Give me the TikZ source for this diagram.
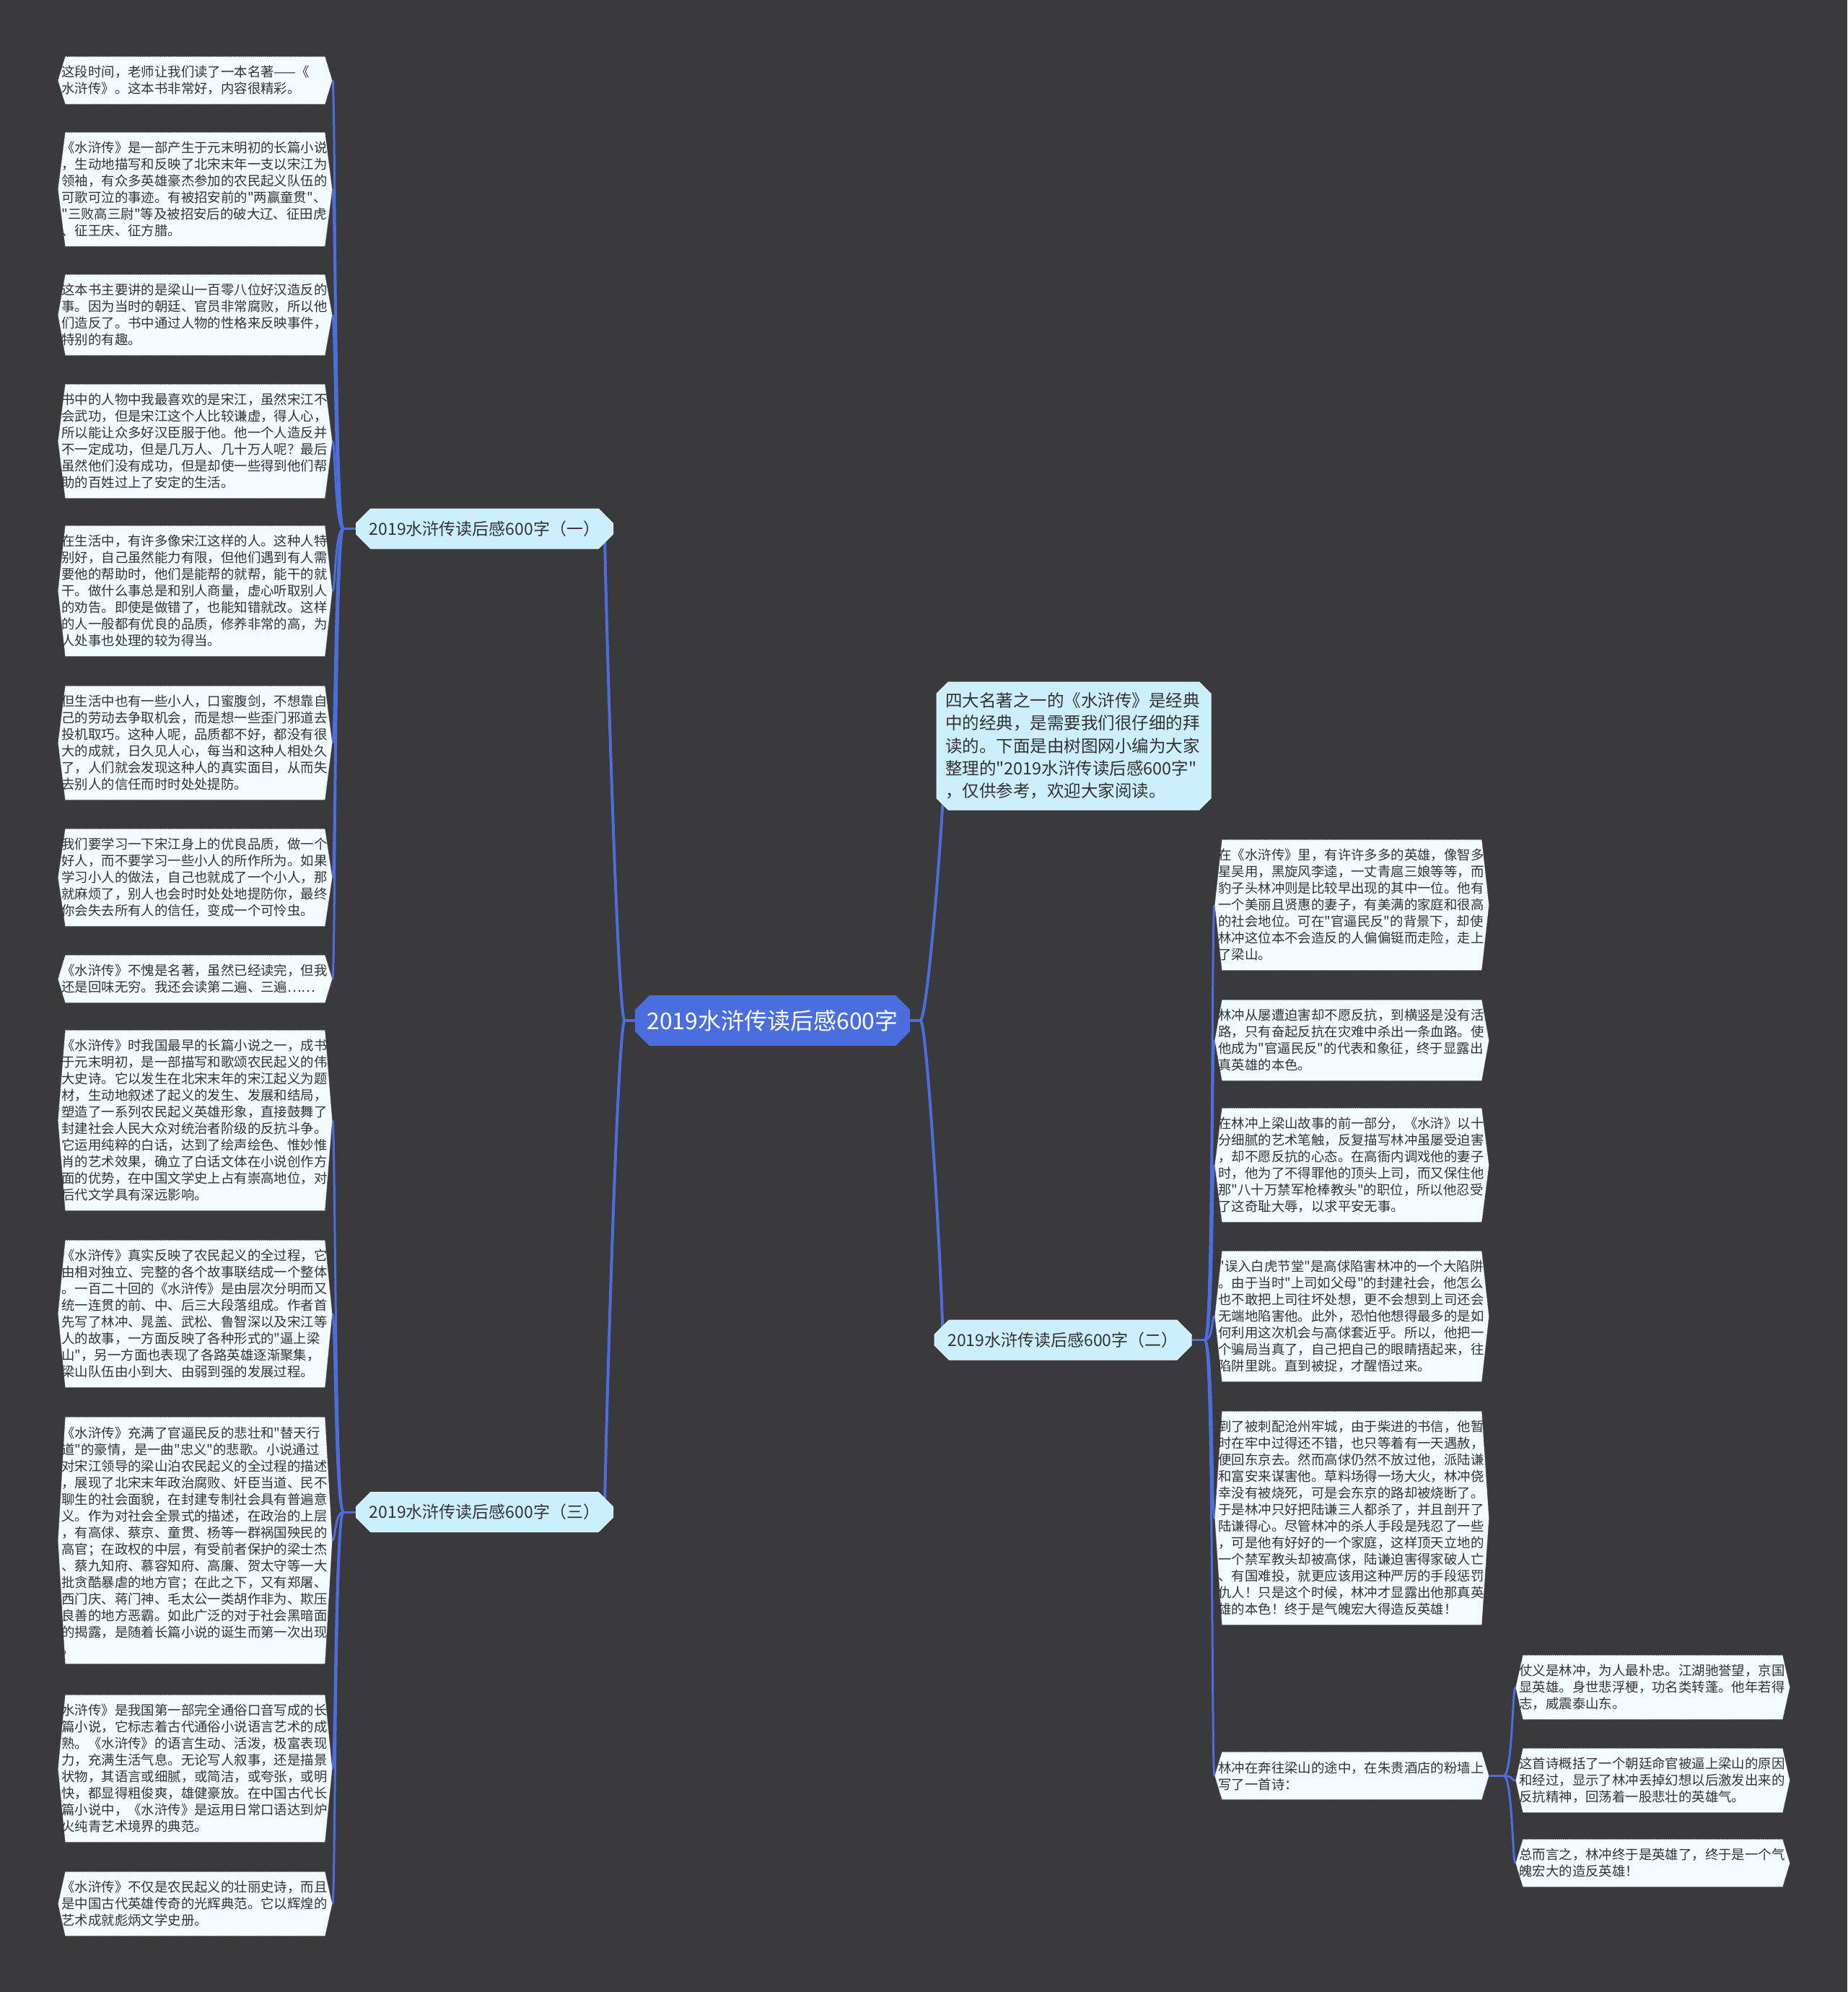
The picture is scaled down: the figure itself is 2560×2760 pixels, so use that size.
\documentclass[tikz,border=0pt]{standalone}
\usepackage{fontspec}
\newfontfamily\cjk{Noto Sans CJK SC}[Ligatures=TeXOff]
\usetikzlibrary{shapes.misc}
\definecolor{bgdark}{HTML}{3A393B}
\definecolor{leaffill}{HTML}{F2FBFE}
\definecolor{leafdot}{HTML}{707070}
\definecolor{branchfill}{HTML}{CCEFFC}
\definecolor{branchedge}{HTML}{E6F7FD}
\definecolor{centerfill}{HTML}{4A6EE0}
\definecolor{linecol}{HTML}{4A6EDF}
\definecolor{txt}{HTML}{333333}
\pgfdeclarelayer{bglayer}
\pgfdeclarelayer{lines}
\pgfsetlayers{bglayer,lines,main}
\begin{document}
\begin{tikzpicture}[x=0.5pt,y=-0.5pt,
  leaf/.style={rectangle, anchor=north west, inner xsep=2.5pt, inner ysep=0pt,
    text width=185pt, minimum height={(23*#1+20)*0.5pt}, align=left, text=txt,
    font=\cjk\fontsize{9.2pt}{11.5pt}\selectfont,
    path picture={\path[fill=leaffill, draw=leafdot, densely dotted, line width=0.4pt]
      ([xshift=5pt]path picture bounding box.north west) --
      ([xshift=-5pt]path picture bounding box.north east) --
      (path picture bounding box.east) --
      ([xshift=-5pt]path picture bounding box.south east) --
      ([xshift=5pt]path picture bounding box.south west) --
      (path picture bounding box.west) -- cycle;}},
  branch/.style={chamfered rectangle, chamfered rectangle xsep=5pt, chamfered rectangle ysep=5pt,
    anchor=center, fill=branchfill, draw=branchedge, line width=0.5pt, inner sep=0pt,
    minimum width=178pt, minimum height=27.5pt, text=txt,
    font=\cjk\fontsize{11.5pt}{14pt}\selectfont},
  centre/.style={chamfered rectangle, chamfered rectangle xsep=5pt, chamfered rectangle ysep=5pt,
    anchor=center, fill=centerfill, draw=none, inner sep=0pt,
    minimum width=190.5pt, minimum height=35pt, text=white,
    font=\cjk\fontsize{16pt}{19pt}\selectfont},
  intro/.style={chamfered rectangle, chamfered rectangle xsep=4pt, chamfered rectangle ysep=4pt,
    anchor=center, fill=branchfill, draw=branchedge, line width=0.5pt,
    inner xsep=2pt, inner ysep=0pt, text width=178pt, minimum height=88.5pt,
    align=left, text=txt, font=\cjk\fontsize{11.75pt}{15.6pt}\selectfont},
  conn/.style={draw=linecol, line width=1.5pt},
  mainconn/.style={draw=linecol, line width=2pt}]

\begin{pgfonlayer}{bglayer}
\fill[bgdark] (0,0) rectangle (2560,2760);
\end{pgfonlayer}
\useasboundingbox (0,0) rectangle (2560,2760);

% centre, intro and branches
\node[centre] (c) at (1070.5,1414) {2019水浒传读后感600字};
\node[intro] (intro) at (1488,1033.5) {四大名著之一的《水浒传》是经典\\中的经典，是需要我们很仔细的拜\\读的。下面是由树图网小编为大家\\整理的"2019水浒传读后感600字"\\，仅供参考，欢迎大家阅读。};
\node[branch] (b1) at (671.5,732.5) {2019水浒传读后感600字（一）};
\node[branch] (b2) at (1473,1856.5) {2019水浒传读后感600字（二）};
\node[branch] (b3) at (671.5,2095) {2019水浒传读后感600字（三）};

% left leaves (branch one)
\node[leaf=2] (l1) at (80,78) {这段时间，老师让我们读了一本名著——《\\水浒传》。这本书非常好，内容很精彩。};
\node[leaf=6] (l2) at (80,183) {《水浒传》是一部产生于元末明初的长篇小说\\，生动地描写和反映了北宋末年一支以宋江为\\领袖，有众多英雄豪杰参加的农民起义队伍的\\可歌可泣的事迹。有被招安前的"两赢童贯"、\\"三败高三尉"等及被招安后的破大辽、征田虎\\、征王庆、征方腊。};
\node[leaf=4] (l3) at (80,380) {这本书主要讲的是梁山一百零八位好汉造反的\\事。因为当时的朝廷、官员非常腐败，所以他\\们造反了。书中通过人物的性格来反映事件，\\特别的有趣。};
\node[leaf=6] (l4) at (80,532) {书中的人物中我最喜欢的是宋江，虽然宋江不\\会武功，但是宋江这个人比较谦虚，得人心，\\所以能让众多好汉臣服于他。他一个人造反并\\不一定成功，但是几万人、几十万人呢？最后\\虽然他们没有成功，但是却使一些得到他们帮\\助的百姓过上了安定的生活。};
\node[leaf=7] (l5) at (80,728) {在生活中，有许多像宋江这样的人。这种人特\\别好，自己虽然能力有限，但他们遇到有人需\\要他的帮助时，他们是能帮的就帮，能干的就\\干。做什么事总是和别人商量，虚心听取别人\\的劝告。即使是做错了，也能知错就改。这样\\的人一般都有优良的品质，修养非常的高，为\\人处事也处理的较为得当。};
\node[leaf=6] (l6) at (80,950) {但生活中也有一些小人，口蜜腹剑，不想靠自\\己的劳动去争取机会，而是想一些歪门邪道去\\投机取巧。这种人呢，品质都不好，都没有很\\大的成就，日久见人心，每当和这种人相处久\\了，人们就会发现这种人的真实面目，从而失\\去别人的信任而时时处处提防。};
\node[leaf=5] (l7) at (80,1148) {我们要学习一下宋江身上的优良品质，做一个\\好人，而不要学习一些小人的所作所为。如果\\学习小人的做法，自己也就成了一个小人，那\\就麻烦了，别人也会时时处处地提防你，最终\\你会失去所有人的信任，变成一个可怜虫。};
\node[leaf=2] (l8) at (80,1323) {《水浒传》不愧是名著，虽然已经读完，但我\\还是回味无穷。我还会读第二遍、三遍……};

% left leaves (branch three)
\node[leaf=10] (l9) at (80,1427) {《水浒传》时我国最早的长篇小说之一，成书\\于元末明初，是一部描写和歌颂农民起义的伟\\大史诗。它以发生在北宋末年的宋江起义为题\\材，生动地叙述了起义的发生、发展和结局，\\塑造了一系列农民起义英雄形象，直接鼓舞了\\封建社会人民大众对统治者阶级的反抗斗争。\\它运用纯粹的白话，达到了绘声绘色、惟妙惟\\肖的艺术效果，确立了白话文体在小说创作方\\面的优势，在中国文学史上占有崇高地位，对\\后代文学具有深远影响。};
\node[leaf=8] (l10) at (80,1718) {《水浒传》真实反映了农民起义的全过程，它\\由相对独立、完整的各个故事联结成一个整体\\。一百二十回的《水浒传》是由层次分明而又\\统一连贯的前、中、后三大段落组成。作者首\\先写了林冲、晁盖、武松、鲁智深以及宋江等\\人的故事，一方面反映了各种形式的"逼上梁\\山"，另一方面也表现了各路英雄逐渐聚集，\\梁山队伍由小到大、由弱到强的发展过程。};
\node[leaf=14] (l11) at (80,1963) {《水浒传》充满了官逼民反的悲壮和"替天行\\道"的豪情，是一曲"忠义"的悲歌。小说通过\\对宋江领导的梁山泊农民起义的全过程的描述\\，展现了北宋末年政治腐败、奸臣当道、民不\\聊生的社会面貌，在封建专制社会具有普遍意\\义。作为对社会全景式的描述，在政治的上层\\，有高俅、蔡京、童贯、杨等一群祸国殃民的\\高官；在政权的中层，有受前者保护的梁士杰\\、蔡九知府、慕容知府、高廉、贺太守等一大\\批贪酷暴虐的地方官；在此之下，又有郑屠、\\西门庆、蒋门神、毛太公一类胡作非为、欺压\\良善的地方恶霸。如此广泛的对于社会黑暗面\\的揭露，是随着长篇小说的诞生而第一次出现\\。};
\node[leaf=8] (l12) at (80,2348) {水浒传》是我国第一部完全通俗口音写成的长\\篇小说，它标志着古代通俗小说语言艺术的成\\熟。《水浒传》的语言生动、活泼，极富表现\\力，充满生活气息。无论写人叙事，还是描景\\状物，其语言或细腻，或简洁，或夸张，或明\\快，都显得粗俊爽，雄健豪放。在中国古代长\\篇小说中，《水浒传》是运用日常口语达到炉\\火纯青艺术境界的典范。};
\node[leaf=3] (l13) at (80,2593) {《水浒传》不仅是农民起义的壮丽史诗，而且\\是中国古代英雄传奇的光辉典范。它以辉煌的\\艺术成就彪炳文学史册。};

% right leaves (branch two)
\node[leaf=7] (r1) at (1683,1163) {在《水浒传》里，有许许多多的英雄，像智多\\星吴用，黑旋风李逵，一丈青扈三娘等等，而\\豹子头林冲则是比较早出现的其中一位。他有\\一个美丽且贤惠的妻子，有美满的家庭和很高\\的社会地位。可在"官逼民反"的背景下，却使\\林冲这位本不会造反的人偏偏铤而走险，走上\\了梁山。};
\node[leaf=4] (r2) at (1683,1385) {林冲从屡遭迫害却不愿反抗，到横竖是没有活\\路，只有奋起反抗在灾难中杀出一条血路。使\\他成为"官逼民反"的代表和象征，终于显露出\\真英雄的本色。};
\node[leaf=6] (r3) at (1683,1535) {在林冲上梁山故事的前一部分，《水浒》以十\\分细腻的艺术笔触，反复描写林冲虽屡受迫害\\，却不愿反抗的心态。在高衙内调戏他的妻子\\时，他为了不得罪他的顶头上司，而又保住他\\那"八十万禁军枪棒教头"的职位，所以他忍受\\了这奇耻大辱，以求平安无事。};
\node[leaf=7] (r4) at (1683,1733) {"误入白虎节堂"是高俅陷害林冲的一个大陷阱\\。由于当时"上司如父母"的封建社会，他怎么\\也不敢把上司往坏处想，更不会想到上司还会\\无端地陷害他。此外，恐怕他想得最多的是如\\何利用这次机会与高俅套近乎。所以，他把一\\个骗局当真了，自己把自己的眼睛捂起来，往\\陷阱里跳。直到被捉，才醒悟过来。};
\node[leaf=12] (r5) at (1683,1955) {到了被刺配沧州牢城，由于柴进的书信，他暂\\时在牢中过得还不错，也只等着有一天遇赦，\\便回东京去。然而高俅仍然不放过他，派陆谦\\和富安来谋害他。草料场得一场大火，林冲侥\\幸没有被烧死，可是会东京的路却被烧断了。\\于是林冲只好把陆谦三人都杀了，并且剖开了\\陆谦得心。尽管林冲的杀人手段是残忍了一些\\，可是他有好好的一个家庭，这样顶天立地的\\一个禁军教头却被高俅，陆谦迫害得家破人亡\\、有国难投，就更应该用这种严厉的手段惩罚\\仇人！只是这个时候，林冲才显露出他那真英\\雄的本色！终于是气魄宏大得造反英雄！};
\node[leaf=2] (r6) at (1683,2427) {林冲在奔往梁山的途中，在朱贵酒店的粉墙上\\写了一首诗：};

% far right leaves
\node[leaf=3] (f1) at (2100,2293) {仗义是林冲，为人最朴忠。江湖驰誉望，京国\\显英雄。身世悲浮梗，功名类转蓬。他年若得\\志，威震泰山东。};
\node[leaf=3] (f2) at (2100,2422) {这首诗概括了一个朝廷命官被逼上梁山的原因\\和经过，显示了林冲丢掉幻想以后激发出来的\\反抗精神，回荡着一股悲壮的英雄气。};
\node[leaf=2] (f3) at (2100,2548) {总而言之，林冲终于是英雄了，终于是一个气\\魄宏大的造反英雄！};

% junctions
\coordinate (jC1) at ([xshift=-7pt]c.west);
\coordinate (jC2) at ([xshift=7pt]c.east);
\coordinate (jL1) at ([xshift=-8.5pt]b1.west);
\coordinate (jL3) at ([xshift=-8.5pt]b3.west);
\coordinate (jR2) at ([xshift=9pt]b2.east);
\coordinate (jR6) at ([xshift=10pt]r6.east);

\begin{pgfonlayer}{lines}
\draw[mainconn] (c.west) -- (jC1);
\draw[mainconn] (c.east) -- (jC2);
\draw[mainconn] (jC1) .. controls +(-10,0) and +(0,60) .. ([xshift=-6pt]b1.east);
\draw[mainconn] (jC1) .. controls +(-10,0) and +(0,-60) .. ([xshift=-6pt]b3.east);
\draw[mainconn] (jC2) .. controls +(10,0) and +(0,80) .. ([xshift=6pt]intro.west);
\draw[mainconn] (jC2) .. controls +(10,0) and +(0,-60) .. ([xshift=6pt]b2.west);
\draw[conn] (b1.west) -- (jL1);
\draw[conn] (b3.west) -- (jL3);
\draw[conn] (b2.east) -- (jR2);
\draw[conn] (r6.east) -- (jR6);
\foreach \n in {l1,l2,l3,l4,l5,l6,l7,l8}
  \draw[conn] (jL1) .. controls +(-12,0) and +(4,0) .. (\n.east);
\foreach \n in {l9,l10,l11,l12,l13}
  \draw[conn] (jL3) .. controls +(-12,0) and +(4,0) .. (\n.east);
\foreach \n in {r1,r2,r3,r4,r5,r6}
  \draw[conn] (jR2) .. controls +(12,0) and +(-4,0) .. (\n.west);
\foreach \n in {f1,f2,f3}
  \draw[conn] (jR6) .. controls +(12,0) and +(-4,0) .. (\n.west);
\end{pgfonlayer}
\end{tikzpicture}
\end{document}
